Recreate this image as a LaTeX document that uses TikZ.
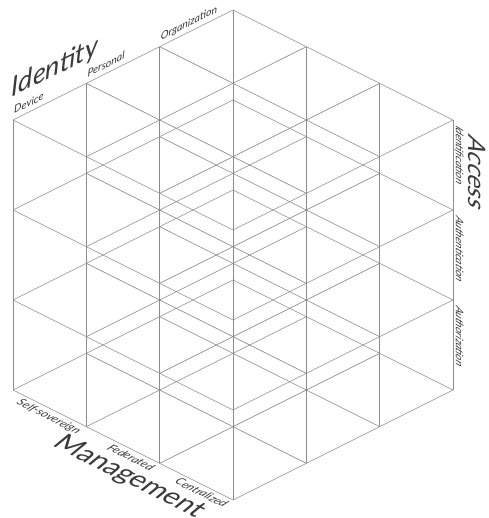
\documentclass[tikz,border=0pt]{standalone}
\usepackage{fontspec}
\setmainfont{Lato}
\definecolor{gridgray}{HTML}{8C8C8C}
\definecolor{labgray}{HTML}{3A3A3A}
\begin{document}
\begin{tikzpicture}[x={(73.33pt,-36.67pt)},y={(-73.33pt,-36.67pt)},z={(0pt,-90pt)},
  gridline/.style={draw=gridgray,line width=0.6pt},
  smalllab/.style={text=labgray,inner sep=0pt,font=\fontsize{10.5}{12}\selectfont\itshape},
  leftlab/.style={smalllab,anchor=base west,shift={(1pt,6pt)},yslant=0.5},
  rightlab/.style={smalllab,anchor=base west,shift={(3pt,-5pt)},cm={0,-1,1,-0.5,(0,0)}},
  botlab/.style={smalllab,anchor=north east,shift={(-3pt,-2pt)},cm={1,-0.5,0.85,0.7,(0,0)}},
  bigtitle/.style={text=labgray,inner sep=0pt,font=\fontsize{26}{30}\selectfont}]
\useasboundingbox (-233pt,10pt) rectangle (255pt,-508pt);
\foreach \a in {0,...,3}{
  \foreach \b in {0,...,3}{
    \draw[gridline] (0,\a,\b) -- (3,\a,\b);
    \draw[gridline] (\a,0,\b) -- (\a,3,\b);
    \draw[gridline] (\a,\b,0) -- (\a,\b,3);
  }
}
\foreach \j/\lab in {3/Device,2/Personal,1/Organization}{
  \node[leftlab] (id\j) at (0,\j,0) {\lab};
}
\foreach \k/\lab in {0/Identification,1/Authentication,2/Authorization}{
  \node[rightlab] (acc\k) at (3,0,\k) {\lab};
}
\foreach \i/\lab in {1/Self-sovereign,2/Federated,3/Centralized}{
  \node[botlab] (mgt\i) at (\i,3,3) {\lab};
}
\node[bigtitle,font=\fontsize{27}{30}\selectfont\itshape,yslant=0.5] (identity) at (-178pt,-58pt) {Identity};
\node[bigtitle,font=\fontsize{24}{28}\selectfont,cm={0,-1,1,-0.5,(0,0)}] (access) at (244pt,-164pt) {Access};
\node[bigtitle,font=\fontsize{25}{28}\selectfont,cm={1,-0.5,0.85,0.7,(0,0)}] (management) at (-104pt,-467pt) {Management};
\end{tikzpicture}
\end{document}
